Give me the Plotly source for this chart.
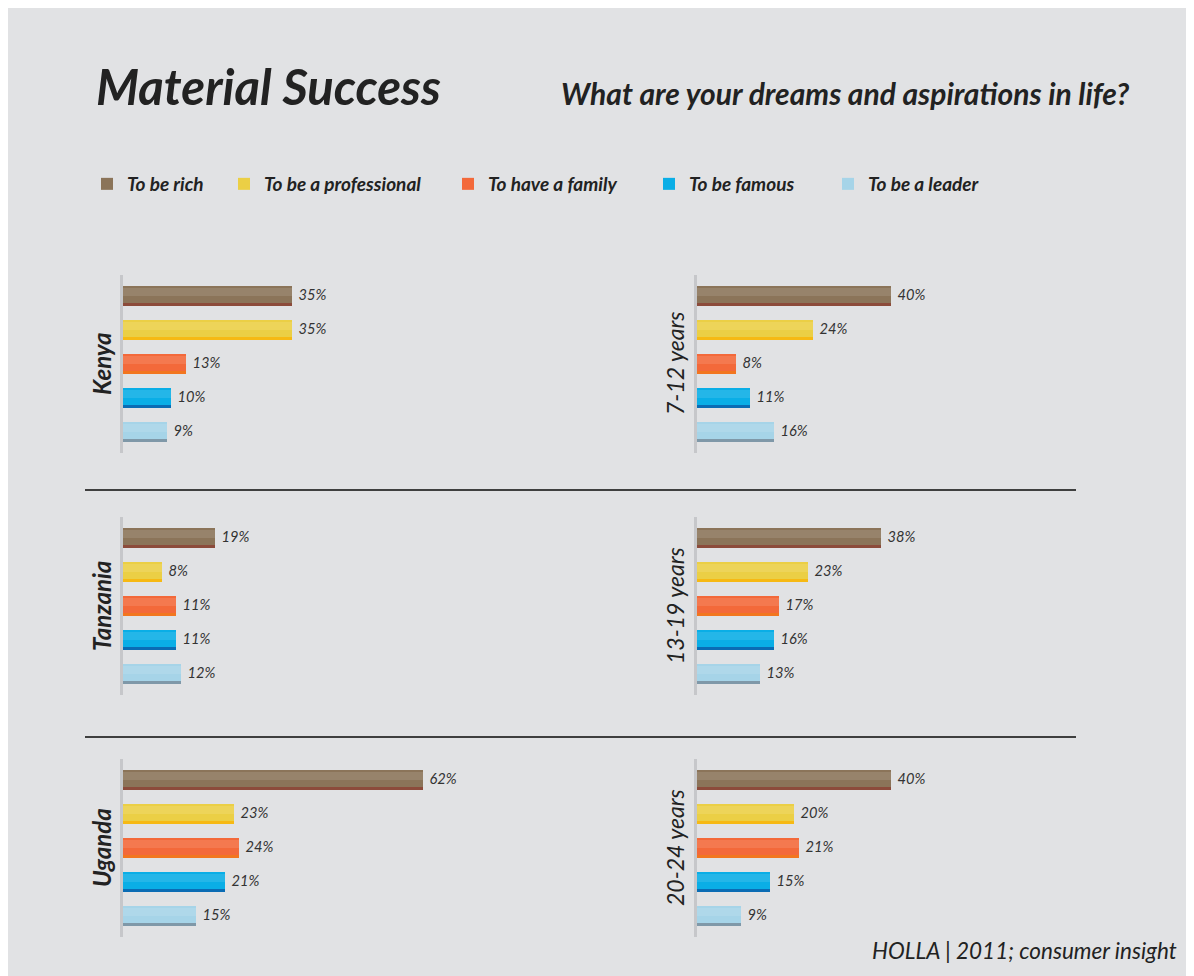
import plotly.graph_objects as go

W, H = 1194, 976

# answers, same order in every panel
series = ["To be rich", "To be a professional", "To have a family", "To be famous", "To be a leader"]
face_colors = ["#8b7459", "#ebcf45", "#f3693a", "#0aaee6", "#a6d4e8"]
edge_colors = ["#8c4b3b", "#f6b914", "#f2761f", "#0a6cb4", "#7f98a8"]

# values in %
kenya = [35, 35, 13, 10, 9]
tanzania = [19, 8, 11, 11, 12]
uganda = [62, 23, 24, 21, 15]
age_7_12 = [40, 24, 8, 11, 16]
age_13_19 = [38, 23, 17, 16, 13]
age_20_24 = [40, 20, 21, 15, 9]

country_labels = ["Kenya", "Tanzania", "Uganda"]
age_labels = ["7-12 years", "13-19 years", "20-24 years"]

FONT = "Lato"
TXT = "#222222"
BG = "#e1e2e4"

# page pixel -> paper coords (page has an 8px body margin)
def px(x):
    return (x - 8) / W

def py(y):
    return 1 - (y - 8) / H

ROW = 34          # px between bars
FIRST = 296       # centre of first bar, top panel
STEP = 242        # px between panel rows
COL_X0 = [123, 697]
PX_PER_PCT = 4.84
XMAX = 70
PAD = 0.62
LEGEND_X = [87, 224, 448, 649, 828]   # one legend box per answer

panels = [
    (kenya, country_labels[0], True, 0, 0),
    (age_7_12, age_labels[0], False, 0, 1),
    (tanzania, country_labels[1], True, 1, 0),
    (age_13_19, age_labels[1], False, 1, 1),
    (uganda, country_labels[2], True, 2, 0),
    (age_20_24, age_labels[2], False, 2, 1),
]

fig = go.Figure()
axes = {}
annotations = []

for n, (vals, label, bold, row, col) in enumerate(panels, start=1):
    xa = "x" if n == 1 else f"x{n}"
    ya = "y" if n == 1 else f"y{n}"
    for i, (name, v) in enumerate(zip(series, vals)):
        # darker underside of the bar
        fig.add_trace(go.Bar(
            x=[v], y=[i], orientation="h", xaxis=xa, yaxis=ya,
            width=0.6, offset=-0.3,
            marker=dict(color=edge_colors[i], line_width=0),
            showlegend=False, hoverinfo="skip"))
        # bar face
        fig.add_trace(go.Bar(
            x=[v], y=[i], orientation="h", xaxis=xa, yaxis=ya,
            width=0.5, offset=-0.3,
            marker=dict(color=face_colors[i], line_width=0),
            name=name, legendgroup=name, showlegend=(n == 1),
            legend="legend" if i == 0 else f"legend{i + 1}",
            text=[f"\u00a0{v}%"], textposition="outside", cliponaxis=False,
            textfont=dict(family=FONT, size=15.5, color="#333333", style="italic")))
        # soft highlight on the upper part
        fig.add_trace(go.Bar(
            x=[v], y=[i], orientation="h", xaxis=xa, yaxis=ya,
            width=0.24, offset=-0.25,
            marker=dict(color="rgba(255,255,255,0.11)", line_width=0),
            showlegend=False, hoverinfo="skip"))

    x0 = COL_X0[col]
    yc = FIRST + row * STEP
    top = yc - PAD * ROW
    bottom = yc + (4 + PAD) * ROW
    key = n if n > 1 else ""
    axes[f"xaxis{key}"] = dict(domain=[px(x0), px(x0 + XMAX * PX_PER_PCT)],
                               range=[0, XMAX], visible=False, fixedrange=True,
                               anchor=ya)
    axes[f"yaxis{key}"] = dict(domain=[py(bottom), py(top)],
                               range=[4 + PAD, -PAD], showline=True,
                               linecolor="#c6c7ca", linewidth=3,
                               showticklabels=False, showgrid=False,
                               zeroline=False, ticks="", fixedrange=True,
                               anchor=xa)
    annotations.append(dict(
        text=label, x=px(x0 - 22), y=py(yc + 2 * ROW),
        xref="paper", yref="paper", xanchor="center", yanchor="middle",
        textangle=-90, showarrow=False,
        font=dict(family=FONT, size=24 if bold else 23, color=TXT, style="italic",
                  weight="bold" if bold else "normal")))

annotations += [
    dict(text="Material Success", x=px(94), y=py(86), xref="paper", yref="paper",
         xanchor="left", yanchor="middle", showarrow=False,
         font=dict(family=FONT, size=49, color=TXT, style="italic", weight="bold")),
    dict(text="What are your dreams and aspirations in life?", x=px(1131), y=py(93),
         xref="paper", yref="paper", xanchor="right", yanchor="middle", showarrow=False,
         font=dict(family=FONT, size=30, color=TXT, style="italic", weight="bold")),
    dict(text="HOLLA | 2011; consumer insight", x=px(1179), y=py(950),
         xref="paper", yref="paper", xanchor="right", yanchor="middle", showarrow=False,
         font=dict(family=FONT, size=22.5, color=TXT, style="italic")),
]

shapes = []
for ysep in (490, 737):
    shapes.append(dict(type="line", xref="paper", yref="paper",
                       x0=px(85), x1=px(1076), y0=py(ysep), y1=py(ysep),
                       line=dict(color="#3f3f3f", width=2)))

legends = {}
for i, lx in enumerate(LEGEND_X):
    legends["legend" if i == 0 else f"legend{i + 1}"] = dict(
        orientation="h", x=px(lx), y=py(165), xanchor="left", yanchor="top",
        bgcolor="rgba(0,0,0,0)", itemclick=False, itemdoubleclick=False,
        font=dict(family=FONT, size=19, color=TXT, style="italic", weight="bold"))

fig.update_layout(
    width=W, height=H, margin=dict(l=0, r=0, t=0, b=0),
    paper_bgcolor=BG, plot_bgcolor="rgba(0,0,0,0)",
    barmode="overlay", bargap=0,
    showlegend=True,
    annotations=annotations, shapes=shapes,
    **legends,
    **axes,
)

fig.write_html("out.html")
